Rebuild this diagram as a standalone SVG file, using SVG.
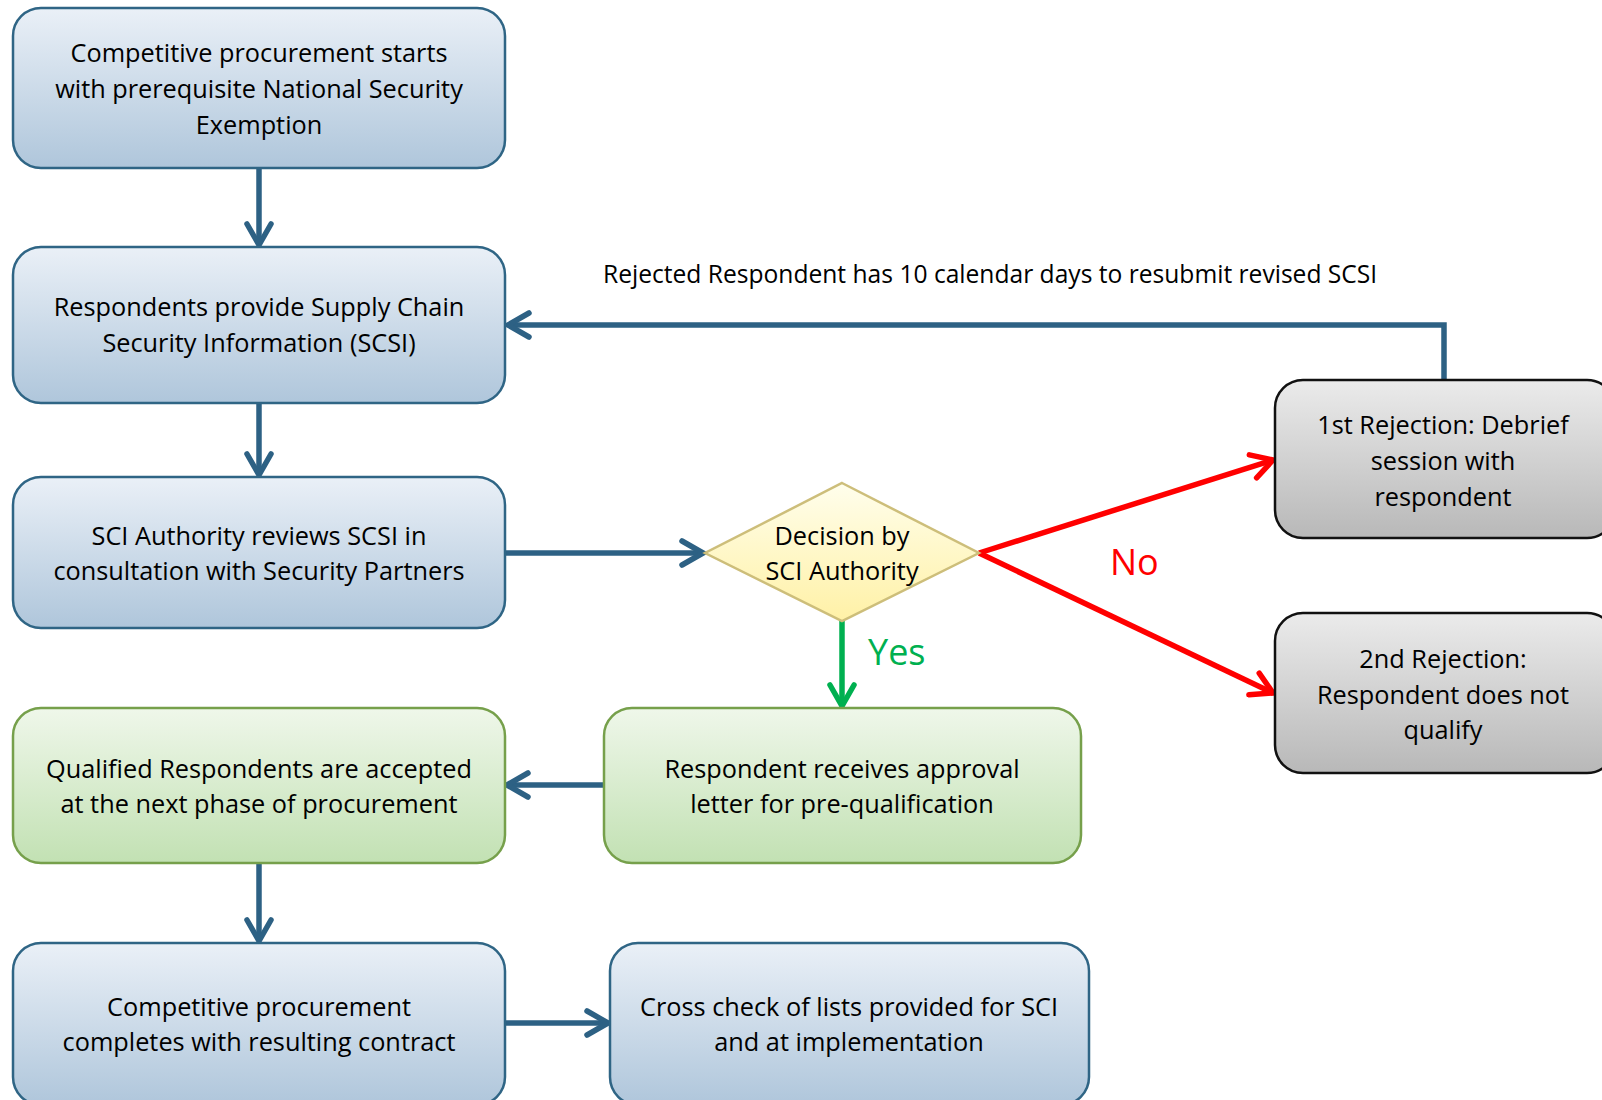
<svg xmlns="http://www.w3.org/2000/svg" width="1602" height="1100" viewBox="0 0 1602 1100">
<defs>
<linearGradient id="gBlue" x1="0" y1="0" x2="0" y2="1"><stop offset="0" stop-color="#EAF0F7"/><stop offset="1" stop-color="#AFC6DB"/></linearGradient>
<linearGradient id="gGreen" x1="0" y1="0" x2="0" y2="1"><stop offset="0" stop-color="#EFF7EA"/><stop offset="1" stop-color="#C2E1B3"/></linearGradient>
<linearGradient id="gGray" x1="0" y1="0" x2="0" y2="1"><stop offset="0" stop-color="#EBEBEB"/><stop offset="1" stop-color="#B8B8B8"/></linearGradient>
<linearGradient id="gYellow" x1="0" y1="0" x2="0" y2="1"><stop offset="0" stop-color="#FFFEEC"/><stop offset="1" stop-color="#FFF1A6"/></linearGradient>
<marker id="aBlue" viewBox="0 0 30 30" refX="26" refY="15" markerWidth="30" markerHeight="30" markerUnits="userSpaceOnUse" orient="auto"><path d="M5,3 L26,15 L5,27" fill="none" stroke="#2D6184" stroke-width="5.5" stroke-linecap="round"/></marker>
<marker id="aRed" viewBox="0 0 30 30" refX="26" refY="15" markerWidth="30" markerHeight="30" markerUnits="userSpaceOnUse" orient="auto"><path d="M5,3 L26,15 L5,27" fill="none" stroke="#FF0000" stroke-width="5.5" stroke-linecap="round"/></marker>
<marker id="aGreen" viewBox="0 0 30 30" refX="26" refY="15" markerWidth="30" markerHeight="30" markerUnits="userSpaceOnUse" orient="auto"><path d="M5,3 L26,15 L5,27" fill="none" stroke="#00B050" stroke-width="5.5" stroke-linecap="round"/></marker>
</defs>
<style>
text{font-family:"Open Sans","Liberation Sans",sans-serif;font-size:25.3px;fill:#000;text-anchor:middle}
.blue{fill:url(#gBlue);stroke:#2F6585;stroke-width:2.5}
.green{fill:url(#gGreen);stroke:#76A04B;stroke-width:2.5}
.gray{fill:url(#gGray);stroke:#111;stroke-width:2.5}
.dia{fill:url(#gYellow);stroke:#CDBE7A;stroke-width:2.5}
.cb{fill:none;stroke:#2D6184;stroke-width:5.5}
.cr{fill:none;stroke:#FF0000;stroke-width:5.5}
.cg{fill:none;stroke:#00B050;stroke-width:5.5}
.lbl{text-anchor:start}
</style>
<rect width="1602" height="1100" fill="#fff"/>
<g id="connectors">
<line class="cb" x1="259" y1="168" x2="259" y2="245" marker-end="url(#aBlue)"/>
<line class="cb" x1="259" y1="403" x2="259" y2="475" marker-end="url(#aBlue)"/>
<line class="cb" x1="505" y1="553" x2="703" y2="553" marker-end="url(#aBlue)"/>
<path class="cb" d="M1444,380 L1444,325 L508,325" marker-end="url(#aBlue)"/>
<line class="cg" x1="842" y1="621" x2="842" y2="706" marker-end="url(#aGreen)"/>
<line class="cr" x1="979" y1="553" x2="1273" y2="460" marker-end="url(#aRed)"/>
<line class="cr" x1="979" y1="553" x2="1273" y2="693" marker-end="url(#aRed)"/>
<line class="cb" x1="604" y1="785" x2="507" y2="785" marker-end="url(#aBlue)"/>
<line class="cb" x1="259" y1="863" x2="259" y2="941" marker-end="url(#aBlue)"/>
<line class="cb" x1="505" y1="1023" x2="608" y2="1023" marker-end="url(#aBlue)"/>
</g>
<g id="n1"><rect class="blue" x="13" y="8" width="492" height="160" rx="28"/>
<text x="259" y="62">Competitive procurement starts</text><text x="259" y="98">with prerequisite National Security</text><text x="259" y="134">Exemption</text></g>
<g id="n2"><rect class="blue" x="13" y="247" width="492" height="156" rx="28"/>
<text x="259" y="316">Respondents provide Supply Chain</text><text x="259" y="352">Security Information (SCSI)</text></g>
<g id="n3"><rect class="blue" x="13" y="477" width="492" height="151" rx="28"/>
<text x="259" y="545">SCI Authority reviews SCSI in</text><text x="259" y="580">consultation with Security Partners</text></g>
<g id="n4"><polygon class="dia" points="842,483 979,553 842,621 705,553"/>
<text x="842" y="545">Decision by</text><text x="842" y="580">SCI Authority</text></g>
<g id="n5"><rect class="gray" x="1275" y="380" width="340" height="158" rx="28"/>
<text x="1443" y="434">1st Rejection: Debrief</text><text x="1443" y="470">session with</text><text x="1443" y="506">respondent</text></g>
<g id="n6"><rect class="gray" x="1275" y="613" width="340" height="160" rx="28"/>
<text x="1443" y="668">2nd Rejection:</text><text x="1443" y="704">Respondent does not</text><text x="1443" y="739">qualify</text></g>
<g id="n7"><rect class="green" x="604" y="708" width="477" height="155" rx="28"/>
<text x="842" y="778">Respondent receives approval</text><text x="842" y="813">letter for pre-qualification</text></g>
<g id="n8"><rect class="green" x="13" y="708" width="492" height="155" rx="28"/>
<text x="259" y="778">Qualified Respondents are accepted</text><text x="259" y="813">at the next phase of procurement</text></g>
<g id="n9"><rect class="blue" x="13" y="943" width="492" height="162" rx="28"/>
<text x="259" y="1016">Competitive procurement</text><text x="259" y="1051">completes with resulting contract</text></g>
<g id="n10"><rect class="blue" x="610" y="943" width="479" height="162" rx="28"/>
<text x="849" y="1016">Cross check of lists provided for SCI</text><text x="849" y="1051">and at implementation</text></g>
<g id="labels">
<text class="lbl" x="603" y="283" style="font-size:24.6px">Rejected Respondent has 10 calendar days to resubmit revised SCSI</text>
<text class="lbl" x="1110" y="575" style="font-size:36px;fill:#FF0000">No</text>
<text class="lbl" x="868" y="665" style="font-size:36px;fill:#00B050">Yes</text>
</g>
</svg>
